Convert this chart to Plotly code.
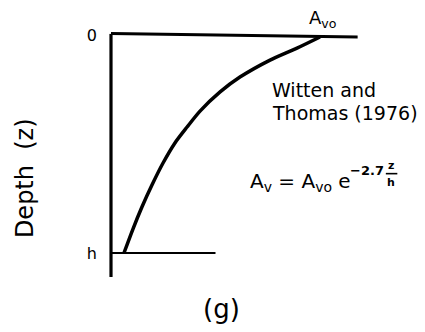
import plotly.graph_objects as go

# Eddy viscosity profile: A_v / A_vo versus relative depth z / h
depth_rel = [0.009, 0.060, 0.115, 0.193, 0.261, 0.349, 0.422, 0.495, 0.587, 0.688, 0.789, 0.890, 1.00]
av_rel = [1.00, 0.890, 0.761, 0.617, 0.522, 0.426, 0.364, 0.306, 0.249, 0.196, 0.148, 0.105, 0.062]

# Frame lines (surface, bed, depth axis)
surface_x = [0.0, 1.18]
surface_z = [-0.007, 0.009]
bed_x = [0.0, 0.50]
bed_z = [1.0, 1.0]
axis_x = [0.0, 0.0]
axis_z = [-0.005, 1.11]

tick_vals = [0, 1]
tick_text = ["0", "h"]

FONT = "DejaVu Sans"
INK = "black"

fig = go.Figure()
fig.add_trace(go.Scatter(x=axis_x, y=axis_z, mode="lines",
                         line=dict(color=INK, width=3.2), hoverinfo="skip"))
fig.add_trace(go.Scatter(x=surface_x, y=surface_z, mode="lines",
                         line=dict(color=INK, width=3), hoverinfo="skip"))
fig.add_trace(go.Scatter(x=bed_x, y=bed_z, mode="lines",
                         line=dict(color=INK, width=2), hoverinfo="skip"))
fig.add_trace(go.Scatter(x=av_rel, y=depth_rel, mode="lines",
                         line=dict(color=INK, width=3.5, shape="spline", smoothing=0.8),
                         hoverinfo="skip"))

# Fraction bar in the exponent
fig.add_shape(type="line", xref="x", yref="y", x0=1.315, x1=1.37, y0=0.636, y1=0.636,
              line=dict(color=INK, width=1.6))

ann = [
    dict(text="Depth\u00a0\u00a0(z)", x=-0.411, y=0.656, textangle=-90, font=dict(size=24)),
    dict(text="(g)", x=0.531, y=1.257, font=dict(size=26)),
    dict(text="A<sub>vo</sub>", x=1.014, y=-0.075, font=dict(size=18)),
    dict(text="Witten and", x=0.761, y=0.252, xanchor="left", font=dict(size=19)),
    dict(text="Thomas (1976)", x=0.761, y=0.356, xanchor="left", font=dict(size=19)),
    dict(text="A<sub>v</sub> = A<sub>vo</sub> e", x=0.656, y=0.672, xanchor="left",
         font=dict(size=20)),
    dict(text="<b>\u22122.7</b>", x=1.225, y=0.622, font=dict(size=13)),
    dict(text="<b>z</b>", x=1.342, y=0.598, font=dict(size=11)),
    dict(text="<b>h</b>", x=1.342, y=0.676, font=dict(size=11)),
]
for a in ann:
    a.setdefault("xanchor", "center")
    a["font"].update(family=FONT, color=INK)
    fig.add_annotation(xref="x", yref="y", showarrow=False, yanchor="middle", **a)

fig.update_layout(
    width=425, height=332,
    margin=dict(l=0, r=0, t=0, b=0),
    paper_bgcolor="white", plot_bgcolor="white",
    showlegend=False,
    xaxis=dict(range=[-0.5311, 1.5024], visible=False, domain=[0, 1]),
    yaxis=dict(range=[1.3624, -0.1606], anchor="free", position=111 / 425,
               showline=False, showgrid=False, zeroline=False,
               tickvals=tick_vals, ticktext=tick_text, ticks="",
               ticklabelstandoff=14,
               tickfont=dict(family=FONT, size=16, color=INK)),
)

fig.write_html("out.html")
